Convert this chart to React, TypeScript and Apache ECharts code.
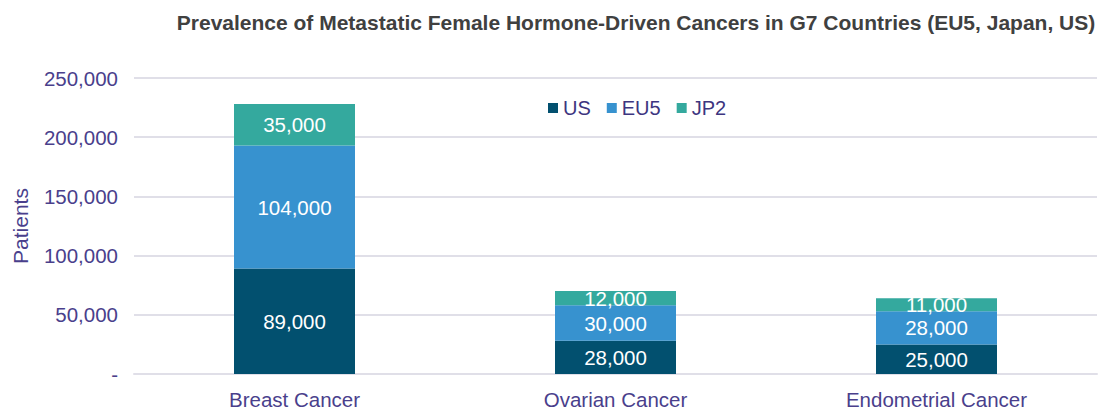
import React, { useEffect, useRef } from "react";
import * as echarts from "echarts";

const categories = ["Breast Cancer", "Ovarian Cancer", "Endometrial Cancer"];
const usValues = [89000, 28000, 25000];
const eu5Values = [104000, 30000, 28000];
const jp2Values = [35000, 12000, 11000];
const seriesNames = ["US", "EU5", "JP2"];
const colors = ["#02506f", "#3792cf", "#34a99e"];

export default function App() {
  const ref = useRef<HTMLDivElement>(null);
  useEffect(() => {
    document.body.style.margin = "0";
    const chart = echarts.init(ref.current!, undefined, { renderer: "svg" });
    const font = "Liberation Sans";
    const labelCfg = {
      show: true,
      position: "inside",
      color: "#ffffff",
      fontSize: 20.5,
      fontFamily: font,
      formatter: (p: any) => Number(p.value).toLocaleString("en-US"),
    };
    const data = [usValues, eu5Values, jp2Values];
    chart.setOption({
      animation: false,
      title: {
        text: "Prevalence of Metastatic Female Hormone-Driven Cancers in G7 Countries (EU5, Japan, US)",
        left: 631,
        textAlign: "center",
        top: 7,
        textStyle: { fontFamily: font, fontSize: 21, fontWeight: "bold", color: "#404040" },
      },
      legend: {
        data: seriesNames,
        left: 543,
        top: 93,
        itemWidth: 10,
        itemHeight: 10,
        itemGap: 16,
        icon: "rect",
        textStyle: { fontFamily: font, fontSize: 20, color: "#3d3580" },
      },
      grid: { left: 134, right: 11, top: 78, bottom: 43 },
      xAxis: {
        type: "category",
        data: categories,
        axisLine: { show: true, lineStyle: { color: "#e0dfe8", width: 2 } },
        axisTick: { show: false },
        axisLabel: { fontFamily: font, fontSize: 20.5, color: "#4a3f8c", margin: 15 },
      },
      yAxis: {
        type: "value",
        min: 0,
        max: 250000,
        interval: 50000,
        name: "Patients",
        nameLocation: "middle",
        nameGap: 103,
        nameTextStyle: { fontFamily: font, fontSize: 21, color: "#4a3f8c" },
        axisLabel: {
          fontFamily: font,
          fontSize: 20.5,
          color: "#4a3f8c",
          margin: 16,
          formatter: (v: number) => (v === 0 ? "-" : v.toLocaleString("en-US")),
        },
        splitLine: { lineStyle: { color: "#e0dfe8", width: 2 } },
      },
      series: seriesNames.map((name, i) => ({
        name,
        type: "bar",
        stack: "total",
        barWidth: 121,
        data: data[i],
        itemStyle: { color: colors[i] },
        label: labelCfg,
      })),
    });
    return () => chart.dispose();
  }, []);
  return <div ref={ref} style={{ width: 1108, height: 417 }} />;
}
